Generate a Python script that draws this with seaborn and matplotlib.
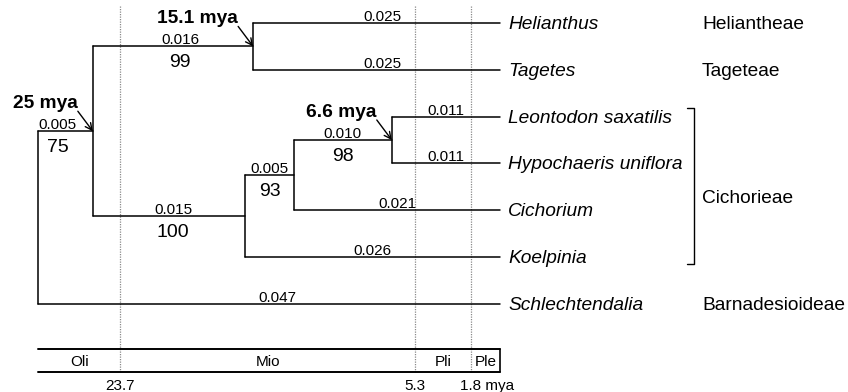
import numpy as np
import pandas as pd
import matplotlib
matplotlib.use("Agg")
import matplotlib.pyplot as plt
import seaborn as sns

# ---------------------------------------------------------
# tree data
# ---------------------------------------------------------
# tips, top to bottom
taxa = ["Helianthus", "Tagetes", "Leontodon saxatilis", "Hypochaeris uniflora",
        "Cichorium", "Koelpinia", "Schlechtendalia"]

# internal nodes: age (mya, as drawn) and children
node_names = ["root", "A", "B", "C", "D", "E"]
node_ages = [28.8, 25.4, 15.4, 15.9, 12.85, 6.75]
node_children = [["A", "Schlechtendalia"],
                 ["B", "C"],
                 ["Helianthus", "Tagetes"],
                 ["D", "Koelpinia"],
                 ["E", "Cichorium"],
                 ["Leontodon saxatilis", "Hypochaeris uniflora"]]

# branch length on the branch leading to each node / tip
branch_names = ["A", "B", "C", "D", "E", "Helianthus", "Tagetes", "Leontodon saxatilis",
                "Hypochaeris uniflora", "Cichorium", "Koelpinia", "Schlechtendalia"]
branch_lengths = ["0.005", "0.016", "0.015", "0.005", "0.010", "0.025", "0.025", "0.011",
                  "0.011", "0.021", "0.026", "0.047"]

bootstrap_nodes = ["A", "B", "C", "D", "E"]
bootstrap_values = ["75", "99", "100", "93", "98"]

dated_nodes = ["A", "B", "E"]
dated_labels = ["25 mya", "15.1 mya", "6.6 mya"]

groups = ["Heliantheae", "Tageteae", "Cichorieae", "Barnadesioideae"]
group_tips = [["Helianthus"], ["Tagetes"],
              ["Leontodon saxatilis", "Hypochaeris uniflora", "Cichorium", "Koelpinia"],
              ["Schlechtendalia"]]

epochs = ["Oli", "Mio", "Pli", "Ple"]
epoch_bounds = [23.7, 5.3, 1.8]
bound_labels = ["23.7", "5.3", "1.8 mya"]

# ---------------------------------------------------------
# layout helpers (1 px = 0.72 pt at dpi 100)
# ---------------------------------------------------------
PT = 0.72
X_PRESENT, PX_PER_MY = 500, 16.03
Y_TOP, PX_PER_ROW = 23, 46.8

sns.set_style("white")
plt.rcParams['font.family'] = ['Liberation Sans', 'DejaVu Sans']
plt.rcParams['text.color'] = 'black'

age = {t: 0.0 for t in taxa}
age.update(dict(zip(node_names, node_ages)))
children = dict(zip(node_names, node_children))
parent = {c: n for n, ch in children.items() for c in ch}
ypos = {t: float(i) for i, t in enumerate(taxa)}


def get_y(n):
    if n not in ypos:
        ypos[n] = float(np.mean([get_y(c) for c in children[n]]))
    return ypos[n]


for n in node_names:
    get_y(n)

# segments of the tree
rows = []
seg = 0
for n in node_names:
    ys = [ypos[c] for c in children[n]]
    rows += [(seg, age[n], min(ys)), (seg, age[n], max(ys))]
    seg += 1
    for c in children[n]:
        rows += [(seg, age[n], ypos[c]), (seg, age[c], ypos[c])]
        seg += 1
seg_df = pd.DataFrame(rows, columns=["seg", "x", "y"])

fig = plt.figure(figsize=(8.48, 3.92), dpi=100)
ax = fig.add_axes([0, 0, 1, 1])

sns.lineplot(data=seg_df, x="x", y="y", units="seg", estimator=None, sort=False,
             color="black", linewidth=1.1, ax=ax, legend=False)

# epoch boundaries (dotted)
y_dot_top = (6 - Y_TOP) / PX_PER_ROW
y_box_top = (349 - Y_TOP) / PX_PER_ROW
y_box_bot = (372 - Y_TOP) / PX_PER_ROW
for b in epoch_bounds:
    ax.plot([b, b], [y_dot_top, y_box_bot], color="#8a8a8a", lw=0.9,
            linestyle=(0, (1, 1)), zorder=0)

# time scale box
t_root = age["root"]
ax.plot([t_root, 0], [y_box_top, y_box_top], color="black", lw=1.4)
ax.plot([t_root, 0], [y_box_bot, y_box_bot], color="black", lw=1.4)
ax.plot([0, 0], [y_box_top, y_box_bot], color="black", lw=1.2)
edges = [t_root] + epoch_bounds + [0]
for i, e in enumerate(epochs):
    ax.text((edges[i] + edges[i + 1]) / 2, (362 - Y_TOP) / PX_PER_ROW, e,
            ha="center", va="center", fontsize=11)
for b, lab in zip(epoch_bounds, bound_labels):
    last = lab.endswith("mya")
    ax.annotate(lab, xy=(b, (386 - Y_TOP) / PX_PER_ROW), xytext=(-11 * PT if last else 0, 0),
                textcoords="offset points", ha="left" if last else "center",
                va="center", fontsize=11)

# branch lengths and bootstrap values
label_shift = {"A": -8, "B": 7, "C": 4, "Helianthus": 6, "Tagetes": 6, "Schlechtendalia": 8}
for n, bl in zip(branch_names, branch_lengths):
    xm = (age[parent[n]] + age[n]) / 2
    dx = label_shift.get(n, 0) * PT
    ax.annotate(bl, xy=(xm, ypos[n]), xytext=(dx, 2 * PT), textcoords="offset points",
                ha="center", va="baseline", fontsize=11)
for n, bs in zip(bootstrap_nodes, bootstrap_values):
    xm = (age[parent[n]] + age[n]) / 2
    dx = label_shift.get(n, 0) * PT
    ax.annotate(bs, xy=(xm, ypos[n]), xytext=(dx, -21 * PT), textcoords="offset points",
                ha="center", va="baseline", fontsize=14)

# dated nodes with arrows
for n, lab in zip(dated_nodes, dated_labels):
    ax.annotate(lab, xy=(age[n], ypos[n]), xytext=(-15 * PT, 23 * PT), textcoords="offset points",
                ha="right", va="baseline", fontsize=13.8, fontweight="bold")
    ax.annotate("", xy=(age[n], ypos[n]), xytext=(-15 * PT, 20 * PT), textcoords="offset points",
                arrowprops=dict(arrowstyle="->", color="black", lw=1.0,
                                shrinkA=0, shrinkB=0, mutation_scale=12))

# tip names
for t in taxa:
    ax.annotate(t, xy=(0, ypos[t]), xytext=(8 * PT, -6 * PT), textcoords="offset points",
                ha="left", va="baseline", fontsize=13.8, style="italic")

# group names and bracket
x_group = (X_PRESENT - 702) / PX_PER_MY
x_brk = (X_PRESENT - 694) / PX_PER_MY
x_brk_in = (X_PRESENT - 687) / PX_PER_MY
for g, tips in zip(groups, group_tips):
    yy = [ypos[t] for t in tips]
    off = -6 if len(tips) == 1 else -16
    ax.annotate(g, xy=(x_group, np.mean(yy)), xytext=(0, off * PT), textcoords="offset points",
                ha="left", va="baseline", fontsize=13.8)
    if len(tips) > 1:
        y0, y1 = min(yy) - 0.19, max(yy) + 0.15
        ax.plot([x_brk_in, x_brk, x_brk, x_brk_in], [y0, y0, y1, y1], color="black", lw=1.0)

ax.set_xlim(X_PRESENT / PX_PER_MY, (X_PRESENT - 848) / PX_PER_MY)
ax.set_ylim((392 - Y_TOP) / PX_PER_ROW, -Y_TOP / PX_PER_ROW)
ax.axis("off")

plt.savefig("out.png", dpi=100)
plt.close()
